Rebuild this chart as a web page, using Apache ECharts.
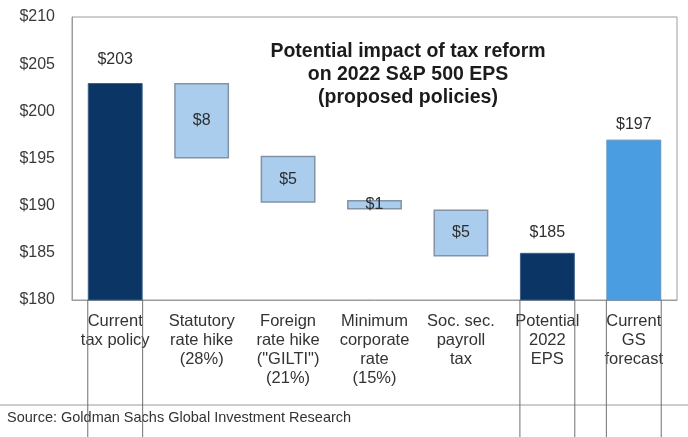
<!DOCTYPE html>
<html>
<head>
<meta charset="utf-8">
<script src="https://cdn.jsdelivr.net/npm/echarts@6/dist/echarts.min.js"></script>
<style>
  html, body { margin: 0; padding: 0; background: #fff; }
  #chart { width: 688px; height: 437px; }
</style>
</head>
<body>
<div id="chart"></div>
<script>
// Step labels along the x axis
var categories = [
  'Current\ntax policy',
  'Statutory\nrate hike\n(28%)',
  'Foreign\nrate hike\n("GILTI")\n(21%)',
  'Minimum\ncorporate\nrate\n(15%)',
  'Soc. sec.\npayroll\ntax',
  'Potential\n2022\nEPS',
  'Current\nGS\nforecast'
];

// EPS levels ($) for the solid bars
var currentEps = 203;
var potentialEps = 185;
var gsForecastEps = 197;

// Policy impacts ($ reduction) and the EPS level each step starts from
var impactStart = [203, 195.3, 190.6, 189.6];
var impacts = [8, 5, 1, 5];

// Y axis ticks
var yMin = 180, yMax = 210, yStep = 5;

var FONT = '"Liberation Sans", Arial, sans-serif';
var NAVY = '#0b3564';
var LIGHT = '#aacdee';
var MID = '#4b9de2';

// Invisible base under each floating bar, and the visible bar heights
var baseData = [0].concat(impactStart.map(function (s, i) { return +(s - impacts[i]).toFixed(2); })).concat([0, 0]);
var valueData = [
  { value: currentEps, itemStyle: { color: NAVY, borderColor: '#3d5f85', borderWidth: 1 },
    label: { position: 'top', distance: 15, formatter: '${c}' } },
].concat(impacts.map(function (v) {
  return { value: v, itemStyle: { color: LIGHT, borderColor: '#8293a6', borderWidth: 1.5 },
           label: { position: 'inside', formatter: '${c}' } };
})).concat([
  { value: potentialEps, itemStyle: { color: NAVY, borderColor: '#3d5f85', borderWidth: 1 },
    label: { position: 'top', distance: 12, formatter: '${c}' } },
  { value: gsForecastEps, itemStyle: { color: MID, borderColor: '#5c93c4', borderWidth: 1 },
    label: { position: 'top', distance: 7, formatter: '${c}' } }
]);

// Solid-bar categories whose edges continue down past the axis
var solidIdx = [0, 5, 6];
var BAR_RATIO = 0.635;

var chart = echarts.init(document.getElementById('chart'), null, { renderer: 'canvas' });
chart.setOption({
  animation: false,
  backgroundColor: '#ffffff',
  textStyle: { fontFamily: FONT },
  title: {
    text: 'Potential impact of tax reform\non 2022 S&P 500 EPS\n(proposed policies)',
    left: 403,
    top: 35,
    textAlign: 'center',
    textStyle: { fontFamily: FONT, fontSize: 19.5, fontWeight: 'bold', color: '#1b1b1b', lineHeight: 23, align: 'center' }
  },
  grid: {
    left: 72, right: 11, top: 17, bottom: 137,
    show: true, borderColor: '#9c9c9c', borderWidth: 1, backgroundColor: 'transparent'
  },
  xAxis: {
    type: 'category',
    data: categories,
    axisLine: { show: true, lineStyle: { color: '#9c9c9c' } },
    axisTick: { show: false },
    axisLabel: {
      interval: 0, margin: 12, color: '#333', fontSize: 16.5, lineHeight: 19, fontFamily: FONT
    }
  },
  yAxis: {
    type: 'value',
    min: yMin, max: yMax, interval: yStep,
    axisLine: { show: true, lineStyle: { color: '#9c9c9c' } },
    axisTick: { show: false },
    splitLine: { show: false },
    axisLabel: { color: '#3a3a3a', fontSize: 16, margin: 17, fontFamily: FONT,
                 formatter: function (v) { return '$' + v; } }
  },
  series: [
    {
      type: 'bar', stack: 'w', barWidth: (BAR_RATIO * 100) + '%',
      itemStyle: { color: 'transparent' },
      emphasis: { disabled: true },
      data: baseData
    },
    {
      type: 'bar', stack: 'w', barWidth: (BAR_RATIO * 100) + '%',
      label: { show: true, fontSize: 16, color: '#2e2e2e', fontFamily: FONT },
      data: valueData
    },
    {
      // edge lines of the solid bars, running below the axis
      type: 'custom',
      clip: false,
      silent: true,
      data: solidIdx.map(function (i) { return [i, yMin]; }),
      renderItem: function (params, api) {
        var p = api.coord([api.value(0), api.value(1)]);
        var half = api.size([1, 0])[0] * BAR_RATIO / 2;
        var bottom = params.coordSys.y + params.coordSys.height + 137;
        var style = { stroke: '#6f6f6f', lineWidth: 1 };
        return {
          type: 'group',
          children: [
            { type: 'line', shape: { x1: p[0] - half, y1: p[1], x2: p[0] - half, y2: bottom }, style: style },
            { type: 'line', shape: { x1: p[0] + half, y1: p[1], x2: p[0] + half, y2: bottom }, style: style }
          ]
        };
      }
    }
  ],
  graphic: [
    { type: 'line', shape: { x1: 0, y1: 405, x2: 688, y2: 405 }, style: { stroke: '#9a9a9a', lineWidth: 1 } },
    { type: 'text', left: 7, top: 410,
      style: { text: 'Source: Goldman Sachs Global Investment Research', fontSize: 14.5, fill: '#333', fontFamily: FONT } }
  ]
});
</script>
</body>
</html>
